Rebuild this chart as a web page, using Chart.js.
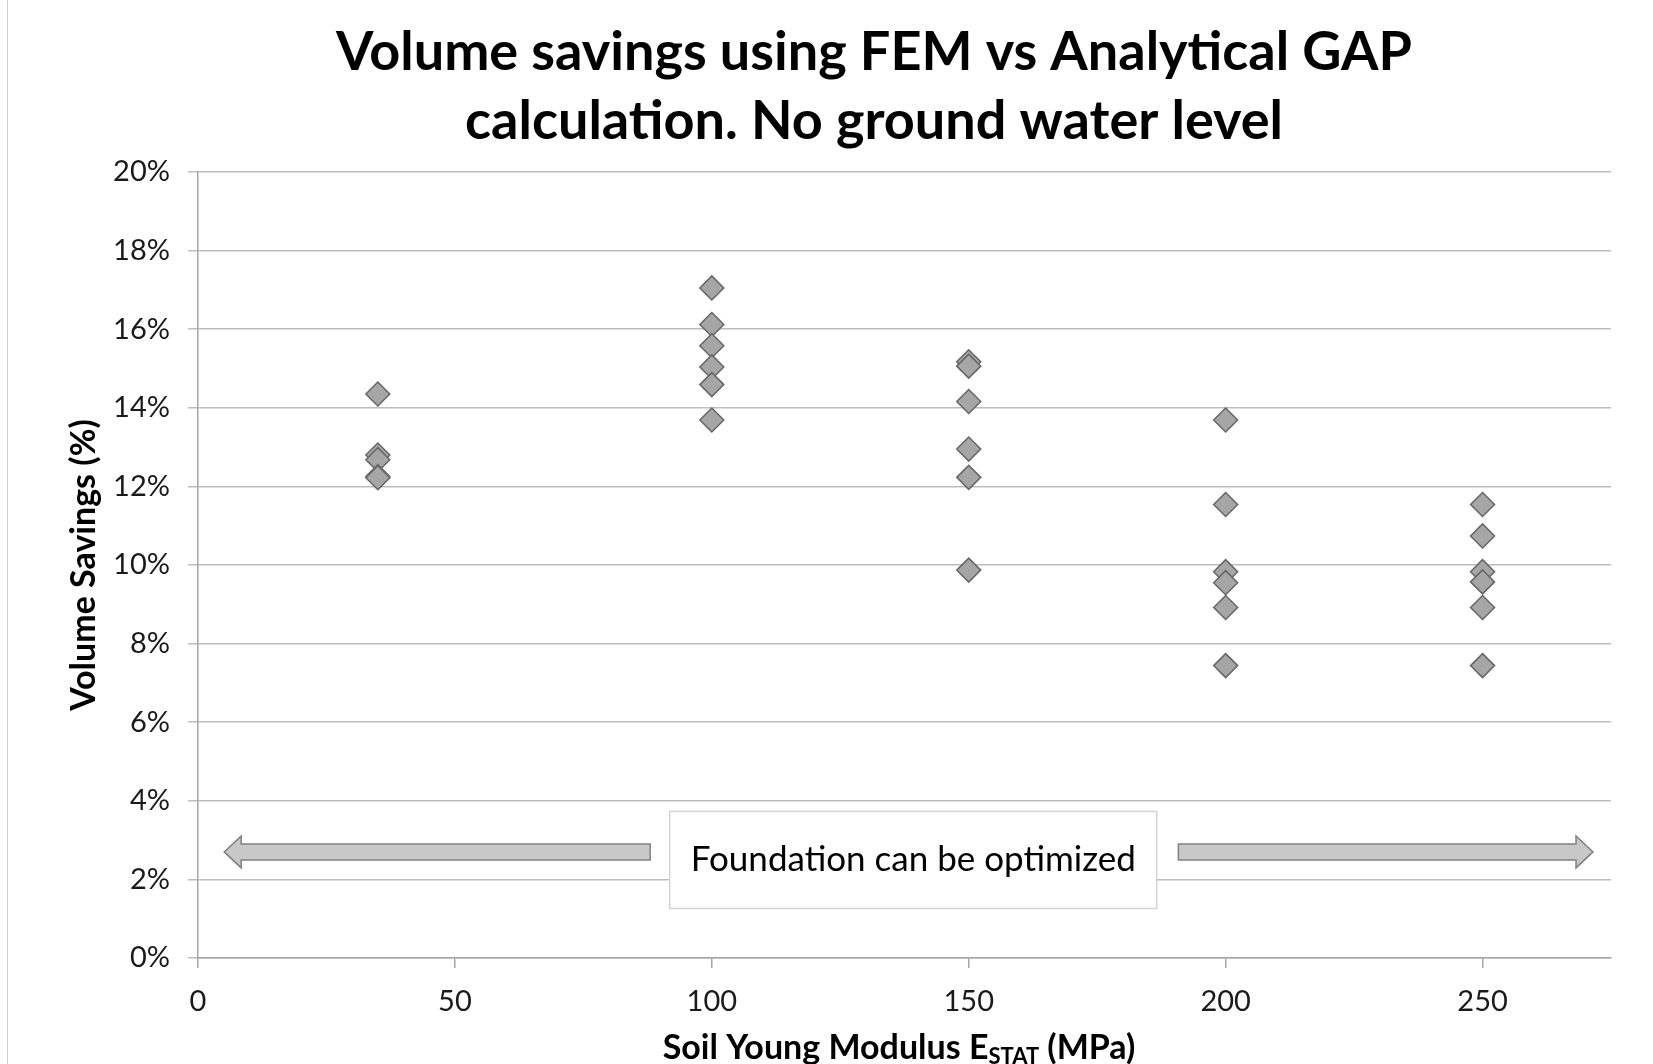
<!DOCTYPE html>
<html>
<head>
<meta charset="utf-8">
<script src="https://cdn.jsdelivr.net/npm/chart.js@4.4.0/dist/chart.umd.min.js"></script>
<style>
  html, body { margin: 0; padding: 0; background: #fff; overflow: hidden; }
  #wrap { position: relative; width: 1653px; height: 1064px; overflow: hidden; }
  #frame { position: absolute; left: 7px; top: 0; width: 1px; height: 1064px; background: #d0d0d0; }
</style>
</head>
<body>
<div id="wrap">
  <canvas id="chart" width="1653" height="1090"></canvas>
  <div id="frame"></div>
</div>
<script>
// soil stiffness values (MPa), one column of points each
var moduli = [35, 100, 150, 200, 250]

// volume savings (%), per modulus
var savings35 = [14.35, 12.8, 12.68, 12.25, 12.22]
var savings100 = [17.05, 16.12, 15.58, 15.04, 14.59, 13.69]
var savings150 = [15.17, 15.06, 14.16, 12.95, 12.23, 9.87]
var savings200 = [13.69, 11.54, 9.83, 9.55, 8.92, 7.44]
var savings250 = [11.54, 10.74, 9.83, 9.57, 8.92, 7.44]

var xTicks = [0, 50, 100, 150, 200, 250]
var yTicks = [0, 2, 4, 6, 8, 10, 12, 14, 16, 18, 20]

var titleLines = ['Volume savings using FEM vs Analytical GAP', 'calculation. No ground water level']

var allSavings = [savings35, savings100, savings150, savings200, savings250]
var points = []
moduli.forEach(function(m, i) {
  allSavings[i].forEach(function(v) {
    points.push({ x: m, y: v })
  })
})

var FONT = "Lato, 'Liberation Sans', sans-serif"

// title, arrows + text box, x-axis title with subscript
var annotations = {
  id: 'annotations',
  afterDraw: function(chart) {
    var ctx = chart.ctx
    var xs = chart.scales.x, ys = chart.scales.y
    var cy = ys.getPixelForValue(2.7)

    ctx.save()
    // chart title (centred on the original chart, which is wider than the crop)
    ctx.fillStyle = '#000'
    ctx.font = "bold 54px " + FONT
    ctx.textAlign = 'center'
    ctx.textBaseline = 'middle'
    ctx.fillText(titleLines[0], 874, 53)
    ctx.fillText(titleLines[1], 874, 122)

    function arrow(xFrom, xTo) {
      var a = xs.getPixelForValue(xFrom), b = xs.getPixelForValue(xTo)
      var dir = b > a ? 1 : -1
      var headLen = 17, shaft = 8, head = 16
      var hb = b - dir * headLen
      ctx.beginPath()
      ctx.moveTo(a, cy - shaft)
      ctx.lineTo(hb, cy - shaft)
      ctx.lineTo(hb, cy - head)
      ctx.lineTo(b, cy)
      ctx.lineTo(hb, cy + head)
      ctx.lineTo(hb, cy + shaft)
      ctx.lineTo(a, cy + shaft)
      ctx.closePath()
      ctx.fillStyle = '#c8c8c8'
      ctx.fill()
      ctx.lineWidth = 1.5
      ctx.strokeStyle = '#808080'
      ctx.stroke()
    }
    arrow(88, 5.1)
    arrow(190.8, 271.5)

    var bx1 = xs.getPixelForValue(91.8), bx2 = xs.getPixelForValue(186.6)
    var by1 = ys.getPixelForValue(3.73), by2 = ys.getPixelForValue(1.26)
    ctx.fillStyle = '#ffffff'
    ctx.fillRect(bx1, by1, bx2 - bx1, by2 - by1)
    ctx.lineWidth = 1.5
    ctx.strokeStyle = '#d4d4d4'
    ctx.strokeRect(bx1, by1, bx2 - bx1, by2 - by1)
    ctx.fillStyle = '#000'
    ctx.font = "35px " + FONT
    ctx.textAlign = 'center'
    ctx.textBaseline = 'middle'
    ctx.fillText('Foundation can be optimized', (bx1 + bx2) / 2, (by1 + by2) / 2)

    // x axis title
    var main1 = 'Soil Young Modulus E', sub = 'STAT', main2 = ' (MPa)'
    ctx.font = "bold 34px " + FONT
    var w1 = ctx.measureText(main1).width, w3 = ctx.measureText(main2).width
    ctx.font = "bold 22px " + FONT
    var w2 = ctx.measureText(sub).width
    var total = w1 + w2 + w3
    var sx = 899 - total / 2
    var ty = 1048
    ctx.textAlign = 'left'
    ctx.textBaseline = 'middle'
    ctx.fillStyle = '#000'
    ctx.font = "bold 34px " + FONT
    ctx.fillText(main1, sx, ty)
    ctx.font = "bold 22px " + FONT
    ctx.fillText(sub, sx + w1, ty + 9)
    ctx.font = "bold 34px " + FONT
    ctx.fillText(main2, sx + w1 + w2, ty)
    ctx.restore()
  }
}

new Chart(document.getElementById('chart').getContext('2d'), {
  type: 'scatter',
  data: {
    datasets: [{
      data: points,
      pointStyle: 'rectRot',
      pointRadius: 12,
      pointHoverRadius: 12,
      backgroundColor: '#a6a6a6',
      borderColor: '#666666',
      borderWidth: 1.5
    }]
  },
  options: {
    responsive: false,
    devicePixelRatio: 1,
    animation: false,
    layout: { padding: { left: 0, right: 42, top: 172, bottom: 22 } },
    plugins: {
      legend: { display: false },
      tooltip: { enabled: false },
      title: { display: false }
    },
    scales: {
      x: {
        type: 'linear',
        min: 0,
        max: 275,
        afterFit: function(s) { s.height = 110 },
        afterBuildTicks: function(s) { s.ticks = xTicks.map(function(v) { return { value: v } }) },
        ticks: { color: '#1a1a1a', font: { family: FONT, size: 29 }, padding: 16, maxRotation: 0 },
        grid: { drawOnChartArea: false, drawTicks: true, tickLength: 10, color: '#a6a6a6', lineWidth: 1.5 },
        border: { display: true, color: '#a6a6a6', width: 1.5 }
      },
      y: {
        min: 0,
        max: 20,
        afterFit: function(s) { s.width = 198 },
        afterBuildTicks: function(s) { s.ticks = yTicks.map(function(v) { return { value: v } }) },
        ticks: {
          color: '#1a1a1a',
          font: { family: FONT, size: 29 },
          padding: 18,
          callback: function(v) { return v + '%' }
        },
        grid: { color: '#bdbdbd', lineWidth: 1.5, tickLength: 10 },
        border: { display: true, color: '#a6a6a6', width: 1.5 },
        title: {
          display: true,
          text: 'Volume Savings (%)',
          color: '#000',
          font: { family: FONT, size: 34, weight: 'bold' },
          padding: { top: 64, bottom: 0 }
        }
      }
    }
  },
  plugins: [annotations]
})
</script>
</body>
</html>
